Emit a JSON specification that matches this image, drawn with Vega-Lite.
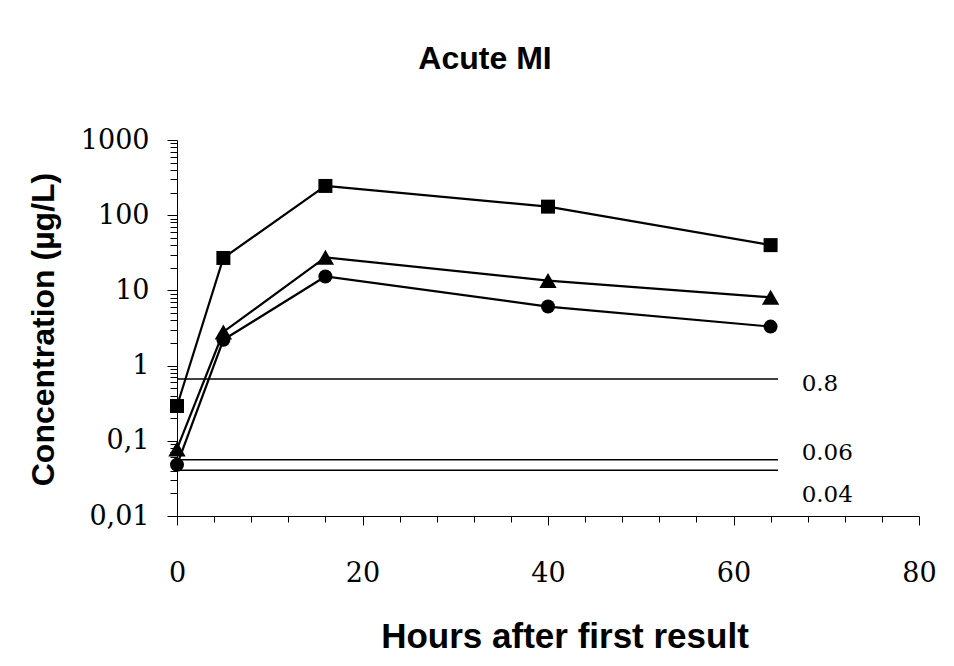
{
  "$schema": "https://vega.github.io/schema/vega-lite/v6.json",
  "width": 742,
  "height": 376,
  "autosize": {"type": "none"},
  "padding": {"left": 177, "top": 140, "right": 35, "bottom": 150},
  "background": "white",
  "config": {"view": {"stroke": null}},
  "title": {
    "text": "Acute MI",
    "font": "Liberation Sans",
    "fontSize": 32,
    "fontWeight": "bold",
    "color": "black",
    "anchor": "middle",
    "frame": "group",
    "dx": -63,
    "offset": 25,
    "baseline": "alphabetic"
  },
  "datasets": {
    "assays": [
      {"assay": "Assay 1", "hours": 0, "conc": 0.29},
      {"assay": "Assay 1", "hours": 5, "conc": 27},
      {"assay": "Assay 1", "hours": 16, "conc": 245},
      {"assay": "Assay 1", "hours": 40, "conc": 130},
      {"assay": "Assay 1", "hours": 64, "conc": 40},
      {"assay": "Assay 2", "hours": 0, "conc": 0.078},
      {"assay": "Assay 2", "hours": 5, "conc": 2.8},
      {"assay": "Assay 2", "hours": 16, "conc": 27.5},
      {"assay": "Assay 2", "hours": 40, "conc": 13.5},
      {"assay": "Assay 2", "hours": 64, "conc": 8.1},
      {"assay": "Assay 3", "hours": 0, "conc": 0.048},
      {"assay": "Assay 3", "hours": 5, "conc": 2.2},
      {"assay": "Assay 3", "hours": 16, "conc": 15.3},
      {"assay": "Assay 3", "hours": 40, "conc": 6.1},
      {"assay": "Assay 3", "hours": 64, "conc": 3.3}
    ],
    "cutoffs": [
      {"hours": 0, "hours_end": 64.8, "conc": 0.665},
      {"hours": 0, "hours_end": 64.8, "conc": 0.056},
      {"hours": 0, "hours_end": 64.8, "conc": 0.0405}
    ],
    "cutoff_labels": [
      {"hours": 67.35, "conc": 0.576, "label": "0.8"},
      {"hours": 67.35, "conc": 0.0697, "label": "0.06"},
      {"hours": 67.35, "conc": 0.0188, "label": "0.04"}
    ]
  },
  "encoding": {
    "x": {
      "field": "hours",
      "type": "quantitative",
      "scale": {"domain": [0, 80], "nice": false, "zero": false},
      "axis": {
        "title": "Hours after first result",
        "values": [0, 4, 8, 12, 16, 20, 24, 28, 32, 36, 40, 44, 48, 52, 56, 60, 64, 68, 72, 76, 80],
        "labelExpr": "datum.value % 20 === 0 ? toString(datum.value) : ''",
        "labelFont": "DejaVu Serif",
        "labelFontSize": 27,
        "labelColor": "black",
        "labelFlush": false,
        "labelOverlap": false,
        "labelPadding": 35,
        "tickColor": "black",
        "tickSize": {"condition": {"test": "datum.value % 20 === 0", "value": 9}, "value": 6},
        "domainColor": "black",
        "grid": false,
        "titleFont": "Liberation Sans",
        "titleFontSize": 35,
        "titleFontWeight": "bold",
        "titleColor": "black",
        "titleX": 387.5,
        "titleY": 131,
        "titleBaseline": "alphabetic",
        "titleAlign": "center"
      }
    },
    "y": {
      "field": "conc",
      "type": "quantitative",
      "scale": {"type": "log", "domain": [0.01, 1000], "nice": false},
      "axis": {
        "title": "Concentration (µg/L)",
        "values": [0.01, 0.02, 0.03, 0.04, 0.05, 0.06, 0.07, 0.08, 0.09, 0.1, 0.2, 0.3, 0.4, 0.5, 0.6, 0.7, 0.8, 0.9, 1, 2, 3, 4, 5, 6, 7, 8, 9, 10, 20, 30, 40, 50, 60, 70, 80, 90, 100, 200, 300, 400, 500, 600, 700, 800, 900, 1000],
        "labelExpr": "abs(log(datum.value)/LN10 - round(log(datum.value)/LN10)) < 0.001 ? replace(toString(datum.value), '.', ',') : ''",
        "labelFont": "DejaVu Serif",
        "labelFontSize": 27,
        "labelColor": "black",
        "labelFlush": false,
        "labelOverlap": false,
        "labelPadding": 18,
        "tickColor": "black",
        "tickSize": {"condition": {"test": "abs(log(datum.value)/LN10 - round(log(datum.value)/LN10)) < 0.001", "value": 10}, "value": 7},
        "domainColor": "black",
        "grid": false,
        "titleFont": "Liberation Sans",
        "titleFontSize": 32,
        "titleFontWeight": "bold",
        "titleColor": "black",
        "titleAngle": -90,
        "titleX": -124,
        "titleY": 189,
        "titleBaseline": "alphabetic",
        "titleAlign": "center"
      }
    }
  },
  "layer": [
    {
      "data": {"name": "cutoffs"},
      "mark": {"type": "rule", "color": "black", "strokeWidth": 1.5},
      "encoding": {"x2": {"field": "hours_end"}}
    },
    {
      "data": {"name": "cutoff_labels"},
      "mark": {"type": "text", "font": "DejaVu Serif", "fontSize": 23, "align": "left", "baseline": "middle", "color": "black"},
      "encoding": {"text": {"field": "label", "type": "nominal"}}
    },
    {
      "data": {"name": "assays"},
      "mark": {"type": "line", "color": "black", "strokeWidth": 2.2},
      "encoding": {"detail": {"field": "assay", "type": "nominal"}}
    },
    {
      "data": {"name": "assays"},
      "mark": {"type": "point", "filled": true, "color": "black", "opacity": 1},
      "encoding": {
        "shape": {
          "field": "assay",
          "type": "nominal",
          "scale": {"domain": ["Assay 1", "Assay 2", "Assay 3"], "range": ["square", "triangle-up", "circle"]},
          "legend": null
        },
        "size": {
          "field": "assay",
          "type": "nominal",
          "scale": {"type": "ordinal", "domain": ["Assay 1", "Assay 2", "Assay 3"], "range": [196, 300, 196]},
          "legend": null
        }
      }
    }
  ]
}
